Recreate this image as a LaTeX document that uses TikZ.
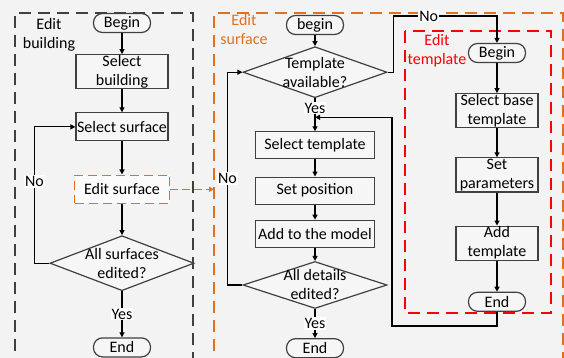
\documentclass[tikz,border=0pt]{standalone}
\usepackage{fontspec}
\setmainfont{Carlito}
\usetikzlibrary{arrows.meta,positioning,shapes.geometric}
\definecolor{edorange}{RGB}{226,112,30}
\definecolor{bggray}{RGB}{243,243,243}
\tikzset{
  base/.style={draw=black!75,line width=1.2pt,fill=gray!7,inner sep=1pt,align=center},
  term/.style={base,rounded corners=9pt,minimum width=57pt,minimum height=19pt},
  proc/.style={base,minimum width=92pt,minimum height=27pt,inner ysep=0pt},
  dec/.style={base,diamond,minimum width=144pt,minimum height=51pt,inner sep=0pt},
  dtxt/.style={align=center,inner sep=0pt},
  arr/.style={-{Triangle[length=5pt,width=5pt]},line width=1.2pt},
  lbl/.style={fill=white,inner sep=1pt},
  frm/.style={dash pattern=on 12pt off 7pt,line width=1.6pt}
}

\begin{document}
\begin{tikzpicture}[x=1pt,y=1pt,font=\fontsize{16}{19}\selectfont]
  \useasboundingbox (0,0) rectangle (564,-358);
  \clip (0,0) rectangle (564,-358);
  \fill[bggray] (0,0) rectangle (564,-358);

  % frames
  \draw[frm,draw=black!75] (15,-370) |- (193,-13) -- (193,-370);
  \draw[frm,draw=edorange] (214,-370) |- (563,-13) -- (563,-370);
  \draw[frm,draw=red] (405,-31) rectangle (551,-313);
  \coordinate (sfl) at (214,0);

  \node[align=center] (lbuild) at (49,-35) {Edit\\building};
  \node[align=center,text=edorange] (lsurf) at (244,-30) {Edit\\surface};
  \node[align=center,text=red] (ltmpl) at (437,-51) {Edit\\template};

  % edit building
  \node[term] (beg1) at (122,-23) {Begin};
  \node[proc,below=21pt of beg1,minimum height=34pt] (selb) {Select\\building};
  \node[proc,below=23pt of selb,minimum height=28pt] (sels) {Select surface};
  \node[proc,below=33pt of sels,minimum height=28pt,minimum width=95pt,fill=gray!3,
        draw=edorange,line width=1.6pt,dash pattern=on 9pt off 5pt] (esurf) {Edit surface};
  \node[dec,below=31pt of esurf,minimum height=55pt,
        label={[dtxt]center:All surfaces\\edited?}] (chk1) {};
  \node[term,below=46pt of chk1] (end1) {End};

  \draw[arr] (beg1) -- (selb);
  \draw[arr] (selb) -- (sels);
  \draw[arr] (sels) -- (esurf);
  \draw[arr] (esurf) -- (chk1);
  \draw[arr] (chk1) -- node[lbl]{Yes} (end1);
  \draw[arr] (chk1.west) -- ++(-15pt,0) |- node[lbl,pos=0.3]{No} (sels.west);
  \draw[arr,edorange,dash pattern=on 8pt off 4pt] (esurf.east) -- (esurf.east -| sfl);

  % edit surface
  \node[term] (beg2) at (315,-25) {begin};
  \node[dec,below=11pt of beg2,label={[dtxt]center:Template\\available?}] (tpl) {};
  \node[proc,below=33pt of tpl,minimum width=119pt] (seltpl) {Select template};
  \node[proc,below=17pt of seltpl,minimum width=119pt] (setpos) {Set position};
  \node[proc,below=15pt of setpos,minimum width=119pt] (addmod) {Add to the model};
  \node[dec,below=13pt of addmod,minimum height=47pt,
        label={[dtxt]center:All details\\edited?}] (chk2) {};
  \node[term,below=29pt of chk2] (end2) {End};
  \path (seltpl.north) ++(0,14pt) coordinate (join);
  \coordinate (topy) at (0,-16);
  \coordinate (rloop) at (392,-326);

  \draw[arr] (beg2) -- (tpl);
  \draw[arr] (tpl) -- node[lbl,pos=0.3]{Yes} (seltpl);
  \draw[arr] (seltpl) -- (setpos);
  \draw[arr] (setpos) -- (addmod);
  \draw[arr] (addmod) -- (chk2);
  \draw[arr] (chk2) -- node[lbl]{Yes} (end2);
  \draw[arr] (chk2.west) -- ++(-15pt,0) |- node[lbl,pos=0.25]{No} (tpl.west);

  % edit template
  \node[term] (beg3) at (497,-53) {Begin};
  \node[proc,below=30pt of beg3,minimum height=34pt,minimum width=82pt] (sbt) {Select base\\template};
  \node[proc,below=29pt of sbt,minimum height=34pt,minimum width=82pt] (setp) {Set\\parameters};
  \node[proc,below=33pt of setp,minimum height=34pt,minimum width=82pt] (addt) {Add\\template};
  \node[term,below=31pt of addt] (end3) {End};

  \draw[arr] (beg3) -- (sbt);
  \draw[arr] (sbt) -- (setp);
  \draw[arr] (setp) -- (addt);
  \draw[arr] (addt) -- (end3);
  \draw[arr] (tpl.east) -- ++(6pt,0) |- node[lbl,pos=0.67]{No} (beg3 |- topy) -- (beg3);
  \draw[arr] (end3.south) |- (rloop) |- (join);
\end{tikzpicture}
\end{document}
